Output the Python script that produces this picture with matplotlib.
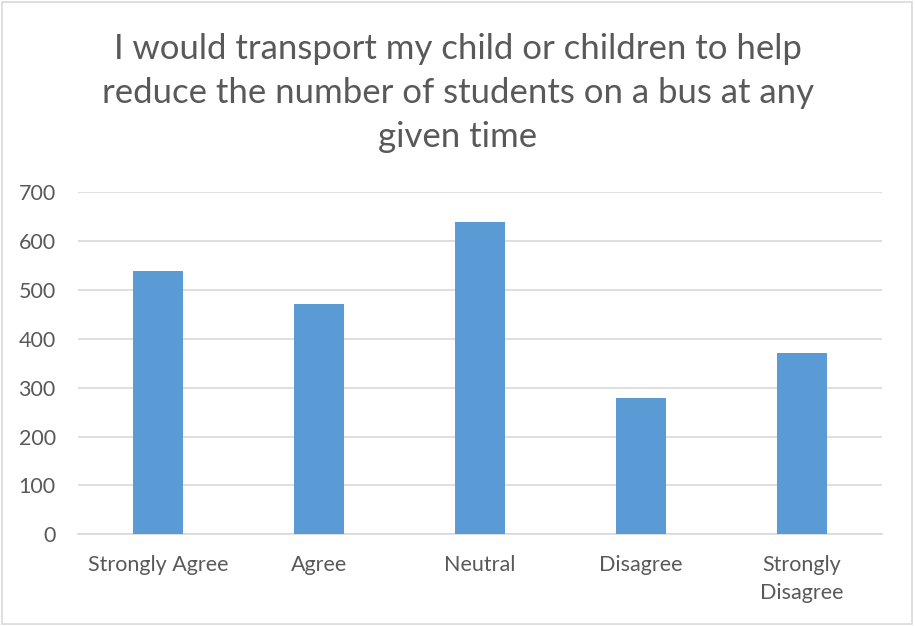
import matplotlib.pyplot as plt
from matplotlib.patches import Rectangle

plt.rcParams['font.family'] = ['Lato', 'DejaVu Sans']

categories = ['Strongly Agree', 'Agree', 'Neutral', 'Disagree', 'Strongly\nDisagree']
values = [538, 472, 639, 278, 370]
title = 'I would transport my child or children to help\nreduce the number of students on a bus at any\ngiven time'

txt = '#595959'
grid = '#d9d9d9'

fig = plt.figure(figsize=(9.15, 6.26), dpi=100)
ax = fig.add_axes([0.0852, 0.1465, 0.964 - 0.0852, 0.693 - 0.1465])

x = range(len(categories))
ax.bar(x, values, width=0.31, color='#5B9BD5', zorder=3)

ax.set_xlim(-0.5, len(categories) - 0.5)
ax.set_ylim(0, 700)
ax.set_yticks(range(0, 701, 100))
ax.set_xticks(list(x))
ax.set_xticklabels(categories, linespacing=1.5)

ax.grid(axis='y', color=grid, linewidth=1.2, zorder=0)
for s in ['top', 'right', 'left']:
    ax.spines[s].set_visible(False)
ax.spines['bottom'].set_color(grid)
ax.spines['bottom'].set_linewidth(1.2)
ax.tick_params(axis='both', length=0, colors=txt, labelsize=15.5)
ax.tick_params(axis='x', pad=15)
ax.tick_params(axis='y', pad=16)

fig.text(0.5, 0.852, title, ha='center', va='center', fontsize=25, color=txt,
         linespacing=1.46)

# outer chart border
fig.patches.append(Rectangle((0.002, 0.003), 0.995, 0.994, transform=fig.transFigure,
                             fill=False, edgecolor=grid, linewidth=1.2))

fig.savefig('out.png', dpi=100)
